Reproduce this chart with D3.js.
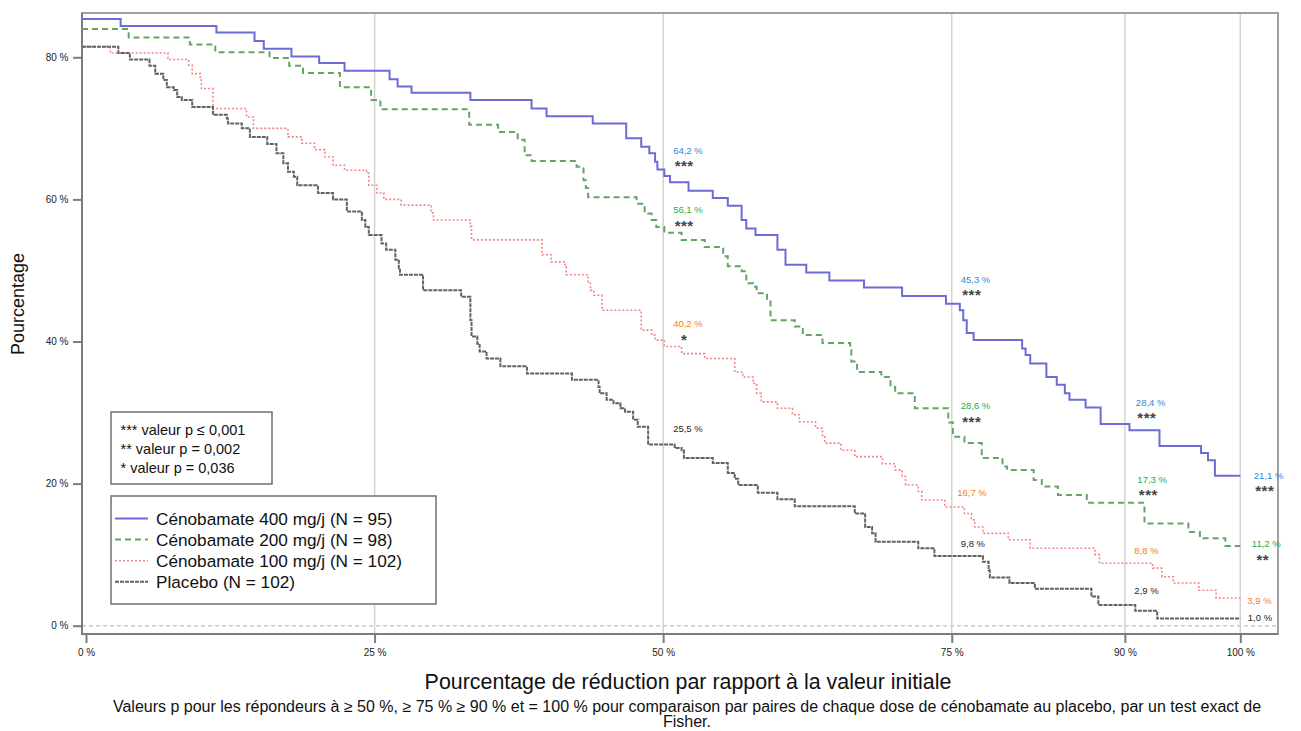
<!DOCTYPE html>
<html>
<head>
<meta charset="utf-8">
<script src="https://cdn.jsdelivr.net/npm/d3@7"></script>
<style>
  body { margin: 0; background: #fff; }
  svg { display: block; font-family: 'Liberation Sans', Arial, sans-serif; }
</style>
</head>
<body>
<div id="chart"></div>
<script>
// Data
const seriesNames = ['Cénobamate 400 mg/j (N = 95)', 'Cénobamate 200 mg/j (N = 98)', 'Cénobamate 100 mg/j (N = 102)', 'Placebo (N = 102)']
// [réduction %, pourcentage] : la courbe descend à cette valeur à partir de cette réduction
const cenobamate400 = [[0, 85.4], [3.0, 84.4], [11.3, 83.5], [14.6, 82.3], [15.4, 81.2], [17.8, 80.1], [20.2, 79.2], [22.4, 78.1], [26.3, 76.9], [27.0, 75.9], [28.2, 75.0], [33.3, 74.0], [38.6, 72.8], [39.9, 71.7], [43.9, 70.7], [46.8, 68.6], [48.1, 67.4], [48.8, 66.5], [49.3, 65.3], [49.5, 64.2], [50.1, 63.3], [50.6, 62.4], [52.2, 61.2], [54.3, 60.2], [55.6, 59.1], [56.8, 57.1], [57.2, 55.9], [58.0, 55.0], [59.9, 52.9], [60.6, 50.8], [62.4, 49.7], [64.4, 48.6], [67.4, 47.6], [70.7, 46.4], [74.5, 45.3], [75.7, 44.4], [76.0, 43.0], [76.3, 41.2], [76.9, 40.2], [81.1, 39.0], [81.4, 38.1], [81.8, 36.9], [83.2, 35.0], [84.1, 33.9], [84.8, 32.7], [85.2, 31.8], [86.6, 30.7], [87.9, 28.4], [90.4, 27.5], [93.0, 25.3], [96.6, 24.3], [97.2, 23.3], [97.8, 21.1]]
const cenobamate200 = [[0, 84.0], [3.7, 82.8], [9.0, 81.8], [11.2, 80.7], [15.9, 79.9], [17.6, 78.8], [18.8, 77.8], [22.0, 75.8], [24.7, 74.0], [25.5, 72.7], [33.2, 70.5], [35.7, 69.5], [37.4, 68.4], [38.0, 66.2], [38.6, 65.4], [42.5, 64.6], [43.1, 62.7], [43.3, 61.6], [43.5, 60.3], [47.7, 59.4], [48.4, 58.0], [49.0, 57.1], [49.4, 56.1], [50.1, 55.3], [51.6, 54.3], [53.6, 53.3], [55.2, 52.0], [55.6, 50.6], [56.8, 49.9], [57.2, 48.2], [57.8, 47.7], [58.1, 46.8], [59.0, 45.8], [59.3, 43.0], [61.4, 42.1], [62.1, 40.9], [63.8, 39.8], [66.2, 38.8], [66.3, 37.2], [66.8, 35.7], [68.9, 35.0], [69.7, 33.6], [70.1, 32.7], [71.8, 30.6], [74.7, 28.6], [75.1, 26.6], [76.1, 25.7], [77.6, 23.6], [79.4, 22.4], [79.8, 21.9], [82.1, 20.5], [82.8, 19.6], [84.2, 18.4], [86.7, 17.3], [91.7, 14.4], [95.5, 13.2], [96.5, 12.3], [98.7, 11.2]]
const cenobamate100 = [[0, 81.5], [2.1, 80.6], [7.1, 79.7], [8.9, 78.9], [9.2, 77.7], [9.9, 76.8], [10.0, 75.6], [11.0, 72.8], [13.9, 71.6], [14.5, 70.0], [17.5, 68.8], [18.7, 67.9], [19.8, 67.0], [20.7, 66.0], [21.4, 64.8], [22.4, 64.1], [24.3, 63.7], [24.5, 62.0], [25.2, 60.9], [25.8, 60.0], [27.3, 59.2], [29.9, 58.1], [30.1, 57.1], [33.3, 56.2], [33.4, 54.3], [39.5, 52.2], [40.3, 51.2], [41.5, 50.5], [41.6, 49.4], [43.5, 48.2], [43.7, 47.2], [44.0, 46.5], [44.7, 44.4], [48.1, 41.6], [49.0, 40.9], [49.3, 40.2], [50.1, 39.3], [51.6, 38.3], [53.6, 37.6], [56.2, 35.7], [56.9, 35.0], [57.8, 34.1], [58.1, 32.7], [58.5, 31.5], [59.9, 30.6], [61.2, 29.7], [61.8, 28.7], [63.2, 27.8], [63.8, 26.6], [64.0, 25.7], [65.4, 24.7], [66.6, 23.8], [69.0, 22.8], [70.1, 21.9], [70.7, 21.0], [71.0, 19.8], [72.1, 18.9], [72.4, 17.7], [74.4, 16.7], [76.1, 15.8], [76.7, 14.9], [77.0, 13.9], [77.7, 13.0], [79.9, 12.1], [81.8, 10.9], [87.4, 10.0], [87.8, 8.8], [92.4, 8.1], [93.2, 6.9], [94.2, 6.0], [96.4, 5.0], [97.9, 3.9]]
const placebo = [[0, 81.5], [2.8, 80.6], [3.8, 79.7], [5.5, 78.8], [6.0, 77.7], [6.7, 76.8], [7.0, 75.8], [7.6, 75.4], [7.9, 74.4], [8.3, 74.0], [9.2, 73.0], [11.0, 71.9], [12.2, 71.4], [12.3, 70.7], [13.5, 70.0], [14.2, 68.8], [15.7, 67.8], [16.5, 66.5], [17.1, 65.1], [17.5, 63.9], [18.0, 63.2], [18.3, 62.0], [20.1, 60.9], [21.4, 60.0], [22.6, 58.3], [23.9, 57.1], [24.2, 56.1], [24.5, 55.0], [25.6, 53.8], [26.0, 52.9], [26.8, 51.5], [27.1, 50.3], [27.2, 49.4], [29.2, 47.2], [32.5, 46.3], [33.3, 43.0], [33.4, 40.7], [33.9, 39.7], [34.1, 38.6], [34.7, 37.6], [35.9, 36.5], [38.2, 35.5], [42.1, 34.6], [44.4, 33.6], [44.5, 32.7], [45.1, 31.8], [45.7, 31.3], [46.3, 30.6], [46.7, 30.1], [47.4, 29.0], [47.8, 28.0], [48.7, 25.5], [51.0, 25.0], [51.6, 24.7], [51.8, 23.6], [54.3, 22.9], [55.6, 21.5], [56.2, 20.7], [56.5, 19.8], [58.2, 18.7], [59.9, 17.8], [61.4, 16.8], [66.6, 15.8], [67.5, 13.9], [68.1, 13.0], [68.4, 11.8], [72.1, 10.9], [73.5, 9.8], [77.7, 9.0], [78.2, 7.8], [78.3, 6.8], [80.0, 6.0], [82.2, 5.2], [87.1, 4.1], [87.7, 2.9], [90.9, 2.1], [92.8, 1.0]]

const thresholds = [50, 75, 90, 100]
const rates400 = [64.2, 45.3, 28.4, 21.1]
const rates200 = [56.1, 28.6, 17.3, 11.2]
const rates100 = [40.2, 16.7, 8.8, 3.9]
const ratesPlacebo = [25.5, 9.8, 2.9, 1.0]
const stars400 = ['***', '***', '***', '***']
const stars200 = ['***', '***', '***', '**']
const stars100 = ['*', '', '', '']
const starsPlacebo = ['', '', '', '']

const xTicks = [0, 25, 50, 75, 90, 100]
const yTicks = [0, 20, 40, 60, 80]
const pValueNotes = ['*** valeur p \u2264 0,001', '** valeur p = 0,002', '* valeur p = 0,036']
const yTitle = 'Pourcentage'
const xTitle = 'Pourcentage de réduction par rapport à la valeur initiale'
const footnote = ['Valeurs p pour les répondeurs à \u2265 50 %, \u2265 75 % \u2265 90 % et = 100 % pour comparaison par paires de chaque dose de cénobamate au placebo, par un test exact de', 'Fisher.']

// Presentation
const width = 1301
const height = 731
const frame = { left: 82, right: 1278, top: 13, bottom: 634 }
const styles = [
    { stroke: '#6c6cd8', width: 2, dash: null, label: '#2f87d6' },
    { stroke: '#66a466', width: 2, dash: '6,4', label: '#22ad4c' },
    { stroke: '#f08686', width: 1.6, dash: '2,2', label: '#ef8020' },
    { stroke: '#626262', width: 2, dash: '4,1', label: '#1e1e1e' }
]
// décalages des étiquettes (px) par série et par seuil
const labelDx = [[10, 9, 11, 13.5], [10, 9, 12.5, 11.5], [10, 5.5, 9.5, 7], [10, 9, 9.5, 7.5]]
const labelDy = [[-19, -24.5, -21.5, 0], [-17, -16.5, -23, -2], [-16, -14.5, -13, 2.5], [-16, -12, -14, -1]]

const series = [cenobamate400, cenobamate200, cenobamate100, placebo]
const rates = [rates400, rates200, rates100, ratesPlacebo]
const stars = [stars400, stars200, stars100, starsPlacebo]

const fr = d3.formatLocale({ decimal: ',', thousands: ' ', grouping: [3], currency: ['', ' €'] })
const fmt = fr.format('.1f')

// Scale
const x = d3.scaleLinear().domain([0, 100]).range([86, 1240.3])
const y = d3.scaleLinear().domain([0, 80]).range([625.7, 57.3])
const xStart = x.invert(frame.left)

const svg = d3.select('#chart').append('svg')
    .attr('width', width)
    .attr('height', height)

// Grid + reference line
svg.append('g').selectAll('line')
    .data(xTicks.filter(d => d > 0))
    .join('line')
    .attr('x1', d => x(d)).attr('x2', d => x(d))
    .attr('y1', frame.top).attr('y2', frame.bottom)
    .attr('stroke', '#d2d2d2')
    .attr('stroke-width', 1.5)

svg.append('line')
    .attr('x1', frame.left).attr('x2', frame.right)
    .attr('y1', y(0)).attr('y2', y(0))
    .attr('stroke', '#cacaca')
    .attr('stroke-width', 1.5)
    .attr('stroke-dasharray', '4,3')

// Frame
svg.append('rect')
    .attr('x', frame.left).attr('y', frame.top)
    .attr('width', frame.right - frame.left).attr('height', frame.bottom - frame.top)
    .attr('fill', 'none')
    .attr('stroke', '#a0a0a0')
    .attr('stroke-width', 2)
svg.append('path')
    .attr('d', `M${frame.left},${frame.top}V${frame.bottom}H${frame.right}`)
    .attr('fill', 'none')
    .attr('stroke', '#7c7c7c')
    .attr('stroke-width', 2)

// Axis
const xAxis = d3.axisBottom(x).tickValues(xTicks).tickSize(9).tickPadding(6).tickFormat(d => d + ' %')
const yAxis = d3.axisLeft(y).tickValues(yTicks).tickSize(9).tickPadding(4.5).tickFormat(d => d + ' %')

const gx = svg.append('g').attr('transform', `translate(0,${frame.bottom})`).call(xAxis)
const gy = svg.append('g').attr('transform', `translate(${frame.left},0)`).call(yAxis)
;[gx, gy].forEach(g => {
    g.select('.domain').remove()
    g.selectAll('.tick line').attr('stroke', '#7c7c7c').attr('stroke-width', 2)
    g.selectAll('.tick text').attr('fill', '#222').style('font-size', '10px').style('font-family', "'Liberation Sans', Arial, sans-serif")
})

// Lines
const line = d3.line()
    .x(d => x(d[0]))
    .y(d => y(d[1]))
    .curve(d3.curveStepAfter)

svg.append('g').selectAll('path')
    .data(series)
    .join('path')
    .attr('d', s => line([[xStart, s[0][1]], ...s.slice(1), [100, s[s.length - 1][1]]]))
    .attr('fill', 'none')
    .attr('stroke', (_, i) => styles[i].stroke)
    .attr('stroke-width', (_, i) => styles[i].width)
    .attr('stroke-dasharray', (_, i) => styles[i].dash)

// Responder labels
const labels = svg.append('g')
series.forEach((_, i) => {
    thresholds.forEach((t, j) => {
        const lx = x(t) + labelDx[i][j]
        const ly = y(rates[i][j]) + labelDy[i][j]
        labels.append('text')
            .attr('x', lx).attr('y', ly).attr('dy', '0.35em')
            .attr('fill', styles[i].label)
            .style('font-size', '9.5px')
            .text(fmt(rates[i][j]) + ' %')
        if (stars[i][j]) {
            labels.append('text')
                .attr('x', lx + 11).attr('y', ly + 12 + 0.57 * 15)
                .attr('text-anchor', 'middle')
                .attr('fill', '#444')
                .style('font-size', '15px').style('font-weight', 'bold')
                .style('letter-spacing', '0.5px')
                .text(stars[i][j])
        }
    })
})

// p-value box
const pBox = svg.append('g').attr('transform', 'translate(111,412)')
pBox.append('rect').attr('width', 161).attr('height', 72)
    .attr('fill', '#fff').attr('stroke', '#707070').attr('stroke-width', 1.5)
pBox.selectAll('text').data(pValueNotes).join('text')
    .attr('x', 9.5).attr('y', (_, i) => 23 + i * 19.2)
    .attr('fill', '#111')
    .style('font-size', '14.5px')
    .text(d => d)

// Legend
const legend = svg.append('g').attr('transform', 'translate(111,496)')
legend.append('rect').attr('width', 325).attr('height', 108)
    .attr('fill', '#fff').attr('stroke', '#707070').attr('stroke-width', 1.5)
const items = legend.selectAll('g.item').data(seriesNames).join('g')
    .attr('class', 'item')
    .attr('transform', (_, i) => `translate(0,${22.5 + i * 21.1})`)
items.append('line')
    .attr('x1', 4).attr('x2', 37)
    .attr('stroke', (_, i) => styles[i].stroke)
    .attr('stroke-width', (_, i) => styles[i].width)
    .attr('stroke-dasharray', (_, i) => styles[i].dash)
items.append('text')
    .attr('x', 45).attr('dy', '0.35em')
    .attr('fill', '#111')
    .style('font-size', '17.2px')
    .text(d => d)

// Titles
svg.append('text')
    .attr('transform', 'translate(24,304) rotate(-90)')
    .attr('text-anchor', 'middle')
    .attr('fill', '#111')
    .style('font-size', '18px')
    .text(yTitle)

svg.append('text')
    .attr('x', 688).attr('y', 689)
    .attr('text-anchor', 'middle')
    .attr('fill', '#111')
    .style('font-size', '21.4px')
    .text(xTitle)

svg.append('g').selectAll('text').data(footnote).join('text')
    .attr('x', 687).attr('y', (_, i) => 712 + i * 14.5)
    .attr('text-anchor', 'middle')
    .attr('fill', '#111')
    .style('font-size', '16px')
    .text(d => d)
</script>
</body>
</html>
